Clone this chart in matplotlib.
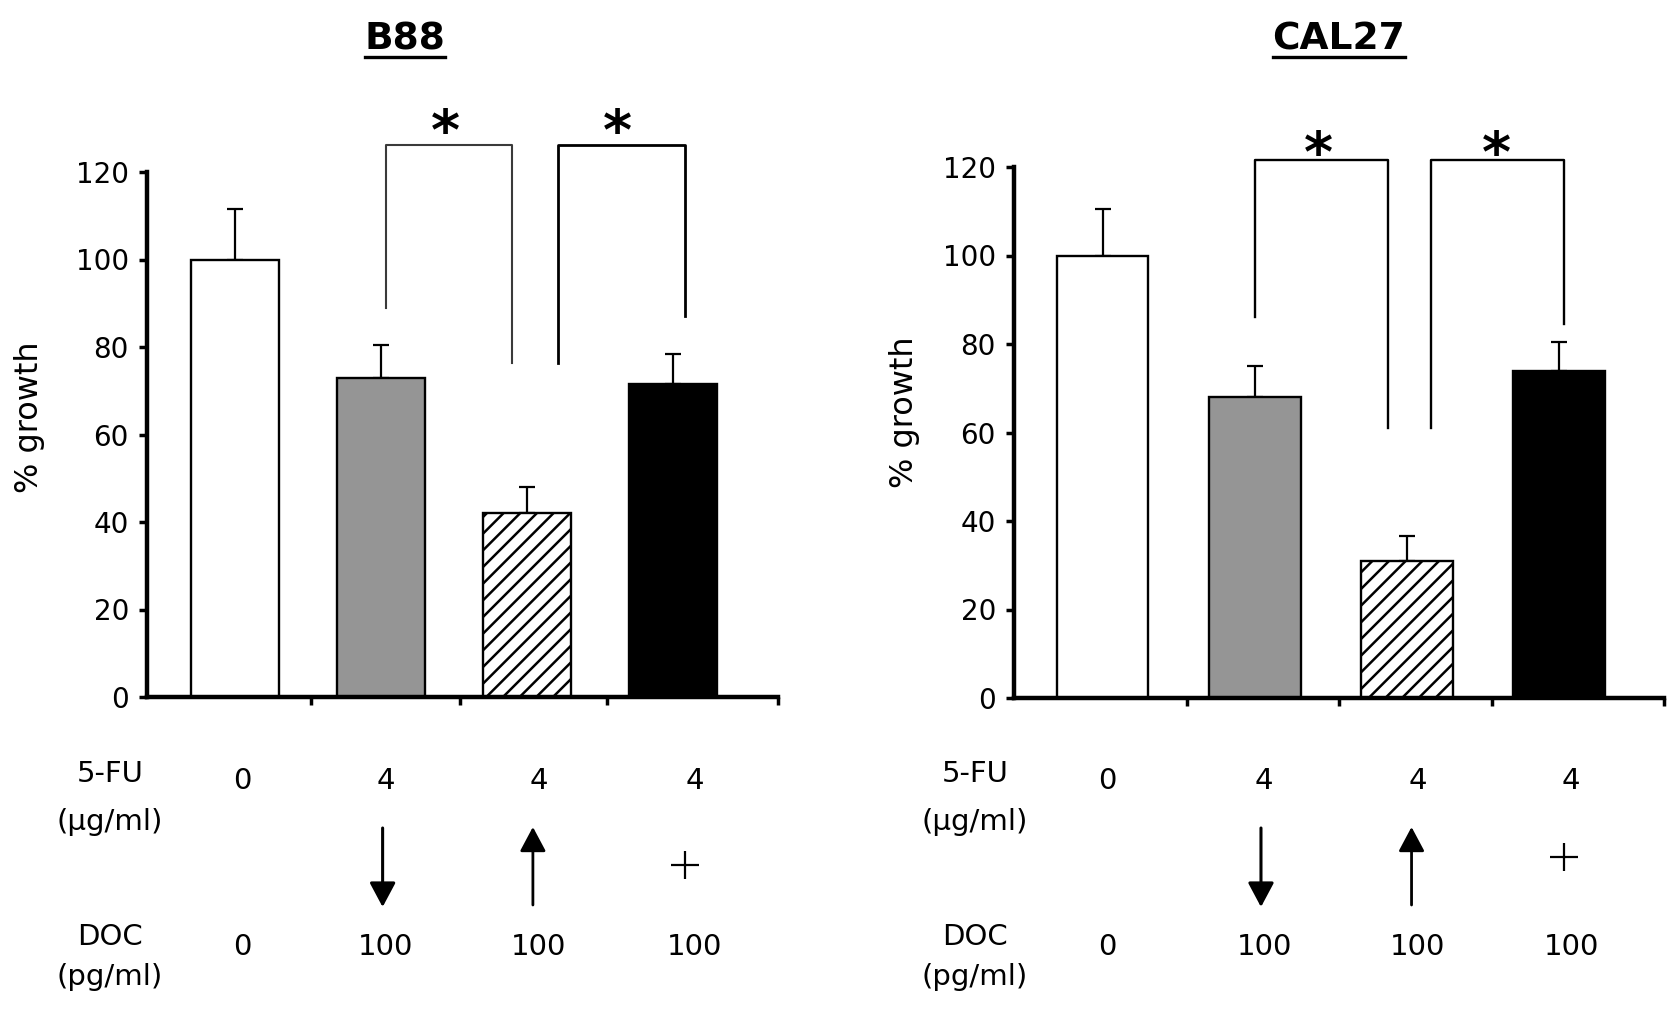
import matplotlib
matplotlib.use("Agg")
import matplotlib.pyplot as plt
import matplotlib.transforms as mtransforms
from matplotlib.lines import Line2D

# data
panels = ['B88', 'CAL27']
b88_growth = [100, 73, 42, 71.5]
b88_err = [11.5, 7.5, 6, 7]
cal27_growth = [100, 68, 31, 74]
cal27_err = [10.5, 7, 5.5, 6.5]
fu_dose = ['0', '4', '4', '4']
doc_dose = ['0', '100', '100', '100']
doc_effect = ['', 'down', 'up', 'plus']
yticks = [0, 20, 40, 60, 80, 100, 120]

bar_colors = ['white', '#959595', 'white', 'black']
bar_hatch = [None, None, '//', None]

W, H = 1677, 1010
plt.rcParams['font.family'] = ['DejaVu Sans']
plt.rcParams['hatch.linewidth'] = 1.8

fig = plt.figure(figsize=(W / 100, H / 100), dpi=100)


def fx(px):
    return px / W


def fy(py):
    return 1 - py / H


# per panel layout (pixel boxes, bracket geometry, label offsets)
layout = [
    dict(box=(147, 172, 778, 697), xlim=(-0.605, 3.72), ticks=[0.52, 1.54, 2.55, 3.72],
         brackets=[(1.03, 89, 1.90, 76.4), (2.21, 76.4, 3.08, 87.2)], btop=126.2,
         bcol=['#3a3a3a', 'black'], blw=[1.5, 2.0],
         stars=[1.44, 2.62], star_y=125.3, title_x=405, ylab=(30, 417),
         rowlab_x=110, val_x=[0.05, 1.03, 2.08, 3.15], mark_x=[0, 1.01, 2.04, 3.08],
         plus_y=865),
    dict(box=(1014, 167, 1664, 698), xlim=(-0.584, 3.69), ticks=[0.556, 1.55, 2.56, 3.69],
         brackets=[(1.0, 86, 1.875, 61), (2.16, 61, 3.03, 84.6)], btop=121.6,
         bcol=['black', 'black'], blw=[1.7, 1.7],
         stars=[1.42, 2.59], star_y=119.1, title_x=1339, ylab=(905, 412),
         rowlab_x=975, val_x=[0.03, 1.06, 2.07, 3.08], mark_x=[0, 1.04, 2.03, 3.03],
         plus_y=857),
]

growth = [b88_growth, cal27_growth]
errs = [b88_err, cal27_err]
titles = []

for k, name in enumerate(panels):
    L = layout[k]
    x0, y0, x1, y1 = L['box']
    ax = fig.add_axes([fx(x0), fy(y1), fx(x1) - fx(x0), (y1 - y0) / H])
    pos = list(range(len(growth[k])))

    ax.bar(pos, growth[k], width=0.6, color=bar_colors, edgecolor='black',
           linewidth=1.7, hatch=bar_hatch, zorder=2)
    ax.errorbar(pos, growth[k], yerr=[[0] * 4, errs[k]], fmt='none', ecolor='black',
                elinewidth=1.6, capsize=6, capthick=1.6, zorder=1)

    ax.set_xlim(*L['xlim'])
    ax.set_ylim(0, 120)
    ax.set_yticks(yticks)
    ax.set_xticks(L['ticks'])
    ax.set_xticklabels([])
    for s in ['top', 'right']:
        ax.spines[s].set_visible(False)
    for s in ['left', 'bottom']:
        ax.spines[s].set_linewidth(3.2)
    ax.tick_params(axis='y', direction='out', length=6, width=2.5, labelsize=20, pad=7)
    ax.tick_params(axis='x', direction='out', length=6, width=2.5)

    # significance brackets
    for (xa, ya, xb, yb), lw, c in zip(L['brackets'], L['blw'], L['bcol']):
        ax.plot([xa, xa, xb, xb], [ya, L['btop'], L['btop'], yb], color=c,
                lw=lw, clip_on=False)
    for xs in L['stars']:
        ax.text(xs, L['star_y'], '*', ha='center', va='baseline', fontsize=40,
                fontweight='bold')

    fig.text(fx(L['ylab'][0]), fy(L['ylab'][1]), '% growth', rotation=90,
             ha='center', va='center', fontsize=23)
    t = fig.text(fx(L['title_x']), fy(50), name, ha='center', va='baseline',
                 fontsize=27, fontweight='bold')
    titles.append(t)

    # treatment rows below the axis
    tr = mtransforms.blended_transform_factory(ax.transData, fig.transFigure)
    fig.text(fx(L['rowlab_x']), fy(774), '5-FU', ha='center', va='center', fontsize=21)
    fig.text(fx(L['rowlab_x']), fy(822), '(\u00b5g/ml)', ha='center', va='center', fontsize=21)
    fig.text(fx(L['rowlab_x']), fy(937), 'DOC', ha='center', va='center', fontsize=21)
    fig.text(fx(L['rowlab_x']), fy(977), '(pg/ml)', ha='center', va='center', fontsize=21)
    for i in pos:
        ax.text(L['val_x'][i], fy(781), fu_dose[i], transform=tr, ha='center',
                va='center', fontsize=21)
        ax.text(L['val_x'][i], fy(947), doc_dose[i], transform=tr, ha='center',
                va='center', fontsize=21)
        xm = L['mark_x'][i]
        if doc_effect[i] == 'down':
            ax.annotate('', xy=(xm, fy(907)), xytext=(xm, fy(828)), xycoords=tr,
                        textcoords=tr, arrowprops=dict(
                            arrowstyle='-|>,head_length=0.6,head_width=0.32',
                            mutation_scale=25, lw=2.2, color='black', shrinkA=0, shrinkB=0))
        elif doc_effect[i] == 'up':
            ax.annotate('', xy=(xm, fy(827)), xytext=(xm, fy(905)), xycoords=tr,
                        textcoords=tr, arrowprops=dict(
                            arrowstyle='-|>,head_length=0.6,head_width=0.32',
                            mutation_scale=25, lw=2.0, color='black', shrinkA=0, shrinkB=0))
        elif doc_effect[i] == 'plus':
            ax.plot([xm], [fy(L['plus_y'])], marker='+', ms=20, mew=1.6,
                    color='black', transform=tr, clip_on=False)

# underline the panel titles
fig.canvas.draw()
for t in titles:
    bb = t.get_window_extent()
    fig.add_artist(Line2D([bb.x0 / W, bb.x1 / W], [fy(57), fy(57)],
                          transform=fig.transFigure, color='black', lw=2.4))

fig.savefig('out.png', dpi=100)
